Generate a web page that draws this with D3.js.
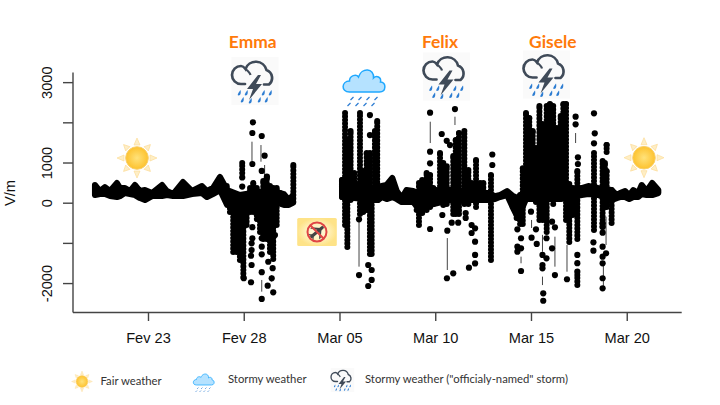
<!DOCTYPE html>
<html>
<head>
<meta charset="utf-8">
<script src="https://cdn.jsdelivr.net/npm/d3@7"></script>
<style>
    html, body { margin: 0; padding: 0; background: #fff; }
    svg { display: block; }
</style>
</head>
<body>
<div id="chart"></div>
<script>
var tickDays = [0, 5, 10, 15, 20, 25];
var tickLabels = ["Fev 23", "Fev 28", "Mar 05", "Mar 10", "Mar 15", "Mar 20"];
var yTicks = [3000, 2000, 1000, 0, -1000, -2000];
var yLabels = [3000, 1000, 0, -2000];

// continuous fair weather band (null = no measurements)
var bandDays = [-2.77, -2.51, -2.25, -1.98, -1.62, -1.46, -1.2, -0.94, -0.68, -0.42, -0.16, 0.21, 0.73, 0.99, 1.31, 1.83, 2.3, 2.82, 3.08, 3.39, 3.76, 4.13, 4.8, 6.37, 7.1, 7.36, 7.57,
    8,
    10.13, 12.01, 12.2, 12.46, 12.76, 12.99, 13.25, 13.5, 13.85, 14.1, 15.77, 17.73, 18.12, 18.38, 18.75, 19.06, 19.32, 19.74, 21.5, 22.65, 22.99, 23.5, 24.2, 24.48, 24.65, 24.91, 25.13, 25.34, 25.6, 25.78, 26.04, 26.33, 26.65];
var bandLow = [190, 215, 215, 165, 140, 165, 240, 215, 190, 115, 65, 165, 165, 190, 165, 165, 215, 240, 140, 215, 315, -55, 65, 65, -55, -55, -5,
    null,
    140, 65, 140, 90, 140, 90, 15, 15, 15, -130, 65, 65, 90, 140, 190, -130, -380, 90, 90, 190, 215, 190, 65, 115, 140, 140, 90, 140, 140, 215, 190, 190, 240];
var bandHigh = [440, 290, 390, 290, 490, 365, 365, 290, 440, 290, 315, 240, 440, 290, 215, 515, 290, 415, 290, 365, 640, 315, 190, 315, 215, 65, 190,
    null,
    565, 315, 415, 440, 615, 290, 115, 315, 290, 240, 315, 240, 165, 190, 290, 165, 115, 315, 315, 365, 415, 365, 315, 190, 240, 290, 190, 315, 240, 440, 290, 490, 315];

// vertical stacks of points during the storms
var colDays = [4.11, 4.28, 4.45, 4.63, 4.8, 4.98, 5.15, 5.33, 5.5, 5.68, 5.85, 6.02, 6.2, 6.37, 6.54, 6.72, 6.89, 7.07, 7.33, 7.59, 4.92,
    10.14, 10.29, 10.41, 10.58, 10.77, 11.07, 11.24, 11.42, 11.59, 11.68, 11.85, 11.97,
    14.03, 14.15, 14.32, 14.55, 14.73, 14.9, 15.08, 15.25, 15.42, 15.6, 15.77, 15.94, 16.07, 16.24, 16.52, 16.73, 16.9, 17.13, 17.34, 17.51, 17.91,
    19.25, 19.43, 19.57, 19.74, 19.91, 20.09, 20.26, 20.44, 20.61, 20.82, 20.99, 21.16, 21.34, 21.55, 21.69, 21.83, 22, 22.18, 22.42, 22.42,
    23.29, 23.74, 23.86, 23.95, 23.95, 24.21];
var colLow = [190, -230, -1225, -1225, -1425, -1850, -555, -230, -230, -405, -730, -905, -905, -1225, -1400, -555, 90, 165, -30, 15, 740,
    140, -555, -1100, 65, 190, -280, -230, -180, -1275, -1275, 65, 65,
    -180, -555, -255, -180, -105, -30, 65, 65, -55, -30, 65, -280, -280, -280, -30, -30, 65, -105, 65, 115, -1425,
    -380, -530, -530, 90, 90, 90, 15, -430, -430, -730, 90, -30, 90, 90, 165, -430, -980, -305, -905, -2050,
    -680, -605, -105, -105, 1260, -505];
var colHigh = [415, 190, 165, 115, 90, 115, 165, 365, 490, 365, 165, 540, 615, 415, 365, 365, 240, 165, 40, 940, 985,
    565, 2230, 1560, 1785, 740, 2230, 790, 1235, 1235, 315, 1785, 2030,
    240, 490, 565, 740, 690, 365, 315, 1235, 985, 910, 315, 1160, 1560, 1735, 1785, 815, 490, 1060, 490, 490, 690,
    115, 190, 860, 2230, 2105, 1785, 1360, 2405, 1960, 2405, 2455, 2405, 1860, 2155, 2455, 2455, 465, 365, 790, -1800,
    1235, 1035, 985, 790, 1435, 315];

// isolated points
var dotDays = [5.48, 5.45, 5.94, 6.09, 5.45, 5.94, 6.21, 4.92, 4.92, 4.92, 5.45, 5.45, 5.41, 5.41, 5.38, 5.41, 5.38, 5.94, 5.94, 5.94, 5.94, 6.28, 6.51, 6.25, 6.46, 6.54, 5.94, 5.0, 6.63,
    11.59, 11.59, 11.02, 11.02, 11.5, 11.68, 11.68, 11.5,
    14.73, 16.03, 15.34, 15.6, 15.77, 14.73, 14.73, 17.98, 17.98, 14.73, 15.63, 15.37, 15.86, 16.2, 16.59, 16.59, 16.9, 17.08, 16.9, 17.08, 17.08, 17.08, 16.76, 15.94, 15.61,
    19.48, 20.64, 20.64, 21.25, 21.88, 22.42, 22.42, 22.42, 22.33, 22.33, 22.45, 22.45, 19.48, 19.29, 19.29, 19.29, 19.48, 20.03, 20, 20.3, 20.26, 20.6, 20.6, 20.6, 20.81, 20.81, 21.1, 21.25, 21.1,
    23.29, 23.33, 23.29, 23.26, 23.26, 23.74, 23.74, 23.74, 23.74, 23.92, 23.74, 23.74, 23.74, 23.74];
var dotVals = [2000, 1734, 1660, 1170, 963, 790, 647, 630, 400, 190, -610, -885, -1010, -1177, -1320, -1550, -1980, -885, -1095, -1285, -1730, -1470, -1630, -2065, -1880, -2230, -2395, -1880, -805,
    2180, 1684, -413, -1800, -1550, -1675, -1923, -2073,
    2240, 2330, 1710, 1540, 1435, 1270, 980, 1200, 938, -655, -695, -306, -497, -497, -380, -256, -555, -637, -754, -970, -1300, -1510, -1617, -1757, -1880,
    -1700, -2255, -2440, -1800, -1905, -1300, -1505, -1717, 2140, 1950, 1130, 963, -885, -662, -1095, -1220, -1135, -870, -224, -1027, -662, -1300, -1550, -1632, -1385, -885, -472, -612, -1135,
    2225, 1727, 1478, -985, -1194, -513, -597, -746, -1095, -1259, -1343, -1508, -1880, -2130];

// thin connecting segments between far apart points
var thinDays = [5.43, 5.9, 6.09, 5.94, 6.46, 11.02, 14.74, 15.63, 16.03, 19.48, 20.03, 20.6, 20.6, 21.25, 21.88, 22.33, 23.78, 23.92];
var thinLow = [1020, 1020, 690, -2214, -1970, -1592, 1485, -1675, 1933, -1508, -630, -2050, -1220, -1592, -1717, 1485, -2120, -1052];
var thinHigh = [1518, 1435, 938, -1923, -1800, -473, 2015, -880, 2140, -1343, -430, -1840, -800, -846, -1052, 1734, -1500, -348];

var stormNames = ["Emma", "Felix", "Gisele"];
var stormDays = [5.47, 15.25, 21.14];
var legendLabels = ["Fair weather", "Stormy weather", "Stormy weather (\"officialy-named\" storm)"];

var width = 720, height = 405;
var svg = d3.select("#chart").append("svg")
    .attr("width", width)
    .attr("height", height);

var defs = svg.append("defs");
var sunGrad = defs.append("radialGradient").attr("id", "sunGrad");
sunGrad.append("stop").attr("offset", "0%").attr("stop-color", "#ffe27a");
sunGrad.append("stop").attr("offset", "100%").attr("stop-color", "#fdc22e");
var signGrad = defs.append("radialGradient").attr("id", "signGrad");
signGrad.append("stop").attr("offset", "0%").attr("stop-color", "#fffbe6");
signGrad.append("stop").attr("offset", "60%").attr("stop-color", "#fff0b8");
signGrad.append("stop").attr("offset", "100%").attr("stop-color", "#fee388");

var x = d3.scaleLinear().domain([-3.916, 27.87]).range([73, 681.7]);
var y = d3.scaleLinear().domain([-2720, 3240]).range([312, 72.5]);

// axes, R style: no box, only the two lines
var xAxis = d3.axisBottom(x)
    .tickValues(tickDays)
    .tickSize(9)
    .tickPadding(12)
    .tickFormat((d, i) => tickLabels[i]);
var yAxis = d3.axisLeft(y)
    .tickValues(yTicks)
    .tickSize(10)
    .tickFormat(d => yLabels.indexOf(d) > -1 ? d : "");

var gx = svg.append("g").attr("transform", "translate(0,312)").call(xAxis);
var gy = svg.append("g").attr("transform", "translate(73,0)").call(yAxis);
[gx, gy].forEach(g => {
    g.selectAll("path, line").attr("stroke", "#444").attr("stroke-width", 1.4);
    g.selectAll("text")
        .attr("fill", "#111")
        .style("font-family", "'Liberation Sans', Arial, sans-serif")
        .style("font-size", "14.6px");
});
gx.select("path").attr("d", "M73,0.5H681.7");
gy.select("path").attr("d", "M0,72.5V312.5");
gy.selectAll(".tick text")
    .attr("text-anchor", "middle")
    .attr("dy", 0)
    .attr("transform", "rotate(-90)")
    .attr("x", 0)
    .attr("y", -21);

svg.append("text")
    .attr("transform", "translate(15,193) rotate(-90)")
    .attr("text-anchor", "middle")
    .style("font-family", "'Liberation Sans', Arial, sans-serif")
    .style("font-size", "14.6px")
    .attr("fill", "#111")
    .text("V/m");

// the measurements
var band = d3.area()
    .defined(i => bandLow[i] !== null)
    .x(i => x(bandDays[i]))
    .y0(i => y(bandLow[i]))
    .y1(i => y(bandHigh[i]));
svg.append("path")
    .attr("d", band(d3.range(bandDays.length)))
    .attr("fill", "#000")
    .attr("stroke", "#000")
    .attr("stroke-width", 6)
    .attr("stroke-linejoin", "round");

svg.append("g").selectAll("line")
    .data(thinDays)
    .enter().append("line")
    .attr("x1", d => x(d))
    .attr("x2", d => x(d))
    .attr("y1", (d, i) => y(thinLow[i]))
    .attr("y2", (d, i) => y(thinHigh[i]))
    .attr("stroke", "#444")
    .attr("stroke-width", 1);

// beaded line so the stacks keep the bumpy edge of overlapping points
svg.append("g").selectAll("line")
    .data(colDays)
    .enter().append("line")
    .attr("x1", d => x(d))
    .attr("x2", d => x(d))
    .attr("y1", (d, i) => y(colLow[i]))
    .attr("y2", (d, i) => y(colHigh[i]))
    .attr("stroke", "#000")
    .attr("stroke-width", 6)
    .attr("stroke-linecap", "round")
    .attr("stroke-dasharray", "0 3.5");

svg.append("g").selectAll("circle")
    .data(colDays)
    .enter().append("circle")
    .attr("cx", d => x(d))
    .attr("cy", (d, i) => y(colHigh[i]))
    .attr("r", 3)
    .attr("fill", "#000");

svg.append("g").selectAll("circle")
    .data(dotDays)
    .enter().append("circle")
    .attr("cx", d => x(d))
    .attr("cy", (d, i) => y(dotVals[i]))
    .attr("r", 3.1)
    .attr("fill", "#000");

// pictograms, drawn around their own center
function drawSun(cx, cy, k) {
    var g = svg.append("g").attr("transform", "translate(" + cx + "," + cy + ") scale(" + k + ")");
    d3.range(8).forEach(i => {
        var far = i % 2 == 0 ? 20 : 19;
        g.append("path")
            .attr("d", "M-3,-13L0," + (-far) + "L3,-13Z")
            .attr("transform", "rotate(" + (i * 45) + ")")
            .attr("fill", "#feeec6")
            .attr("stroke", "#fcdc98")
            .attr("stroke-width", 0.7);
    });
    g.append("circle").attr("r", 11.3)
        .attr("fill", "url(#sunGrad)")
        .attr("stroke", "#f9cf6b")
        .attr("stroke-width", 1);
}

function drawStorm(cx, cy, k) {
    var g = svg.append("g").attr("transform", "translate(" + cx + "," + cy + ") scale(" + k + ")");
    g.append("rect").attr("x", -23.5).attr("y", -24).attr("width", 47).attr("height", 48)
        .attr("fill", "#fafafa");
    g.append("path")
        .attr("d", "M-10,3H-14A9,9 0 0 1 -14,-15C-13,-15 -11,-14 -9.5,-12A11,11 0 0 1 11.5,-11A8.5,8.5 0 0 1 14,3.5H9")
        .attr("fill", "none")
        .attr("stroke", "#3f4a58")
        .attr("stroke-width", 2.7)
        .attr("stroke-linecap", "round");
    g.append("path")
        .attr("d", "M-9.5,-12C-7,-10 -5,-8 -4.5,-6")
        .attr("fill", "none")
        .attr("stroke", "#3f4a58")
        .attr("stroke-width", 2.2);
    g.append("path")
        .attr("d", "M3,-6L-8,8L-2,8L-6,19L7,3L1,3L6,-6Z")
        .attr("fill", "#3f4a58");
    [[-16, 12], [-9, 12], [8, 12], [15, 12], [-13, 19], [-5, 20], [4, 19], [11, 19]].forEach(p => {
        g.append("path")
            .attr("d", "M" + (p[0] + 1.5) + "," + (p[1] - 3) + "C" + (p[0] + 0) + "," + (p[1] - 1) + " " + (p[0] - 2.5) + "," + (p[1] + 2.5) + " " + (p[0] - 0.5) + "," + (p[1] + 2.5) + "C" + (p[0] + 2) + "," + (p[1] + 2.5) + " " + (p[0] + 2) + "," + (p[1] - 1) + " " + (p[0] + 1.5) + "," + (p[1] - 3) + "Z")
            .attr("fill", "#2d7dd2");
    });
}

function drawCloud(cx, cy, k) {
    var g = svg.append("g").attr("transform", "translate(" + cx + "," + cy + ") scale(" + k + ")");
    g.append("path")
        .attr("d", "M-14,8C-23,8 -22,-3 -14,-3C-14,-9 -7,-10 -5,-7C-2,-17 11,-16 10,-6C13,-9 18,-7 17,-2C23,-2 23,8 16,8Z")
        .attr("fill", "#b5e2ff")
        .attr("stroke", "#1fa8ff")
        .attr("stroke-width", 1.5);
    [[-13, 13], [-5, 13], [3, 13], [11, 13], [-16, 19], [-8, 19], [0, 19], [8, 19]].forEach(p => {
        g.append("line")
            .attr("x1", p[0]).attr("y1", p[1] + 3)
            .attr("x2", p[0] + 3).attr("y2", p[1])
            .attr("stroke", "#2d7dd2")
            .attr("stroke-width", 1.3);
    });
}

function drawNoPlane(cx, cy) {
    var g = svg.append("g").attr("transform", "translate(" + cx + "," + cy + ")");
    g.append("rect").attr("x", -19.8).attr("y", -14).attr("width", 39.6).attr("height", 28).attr("rx", 1.5)
        .attr("fill", "url(#signGrad)");
    var p = g.append("g").attr("transform", "rotate(-40)").attr("fill", "#444");
    p.append("rect").attr("x", -8.5).attr("y", -1.5).attr("width", 17).attr("height", 3).attr("rx", 1.5);
    p.append("path").attr("d", "M2,-1L-3,-7L-1,-7L5,-1ZM2,1L-3,7L-1,7L5,1ZM-7,-1L-9,-4L-8,-4L-5,-1ZM-7,1L-9,4L-8,4L-5,1Z");
    g.append("circle").attr("r", 9.5).attr("fill", "none").attr("stroke", "#e04545").attr("stroke-width", 2);
    g.append("line").attr("x1", -6.8).attr("y1", -6.8).attr("x2", 6.8).attr("y2", 6.8)
        .attr("stroke", "#e04545").attr("stroke-width", 2);
}

drawSun(137, 158, 1);
drawSun(644, 157.7, 1);
drawStorm(255, 81, 1);
drawStorm(446.5, 76.5, 1);
drawStorm(546.5, 74.5, 1);
drawCloud(363.5, 84, 1);
drawNoPlane(317, 232);

svg.append("g").selectAll("text")
    .data(stormNames)
    .enter().append("text")
    .attr("x", (d, i) => x(stormDays[i]))
    .attr("y", 48)
    .attr("text-anchor", "middle")
    .attr("fill", "#ff7a0a")
    .style("font-family", "Lato, sans-serif")
    .style("font-weight", "bold")
    .style("font-size", "17.4px")
    .text(d => d);

// legend
drawSun(82, 381.5, 0.52);
drawCloud(203.5, 381, 0.5);
drawStorm(342.5, 380, 0.5);
var legendX = [100.5, 228, 365];
var legendY = [385, 383, 383];
svg.append("g").selectAll("text")
    .data(legendLabels)
    .enter().append("text")
    .attr("x", (d, i) => legendX[i])
    .attr("y", (d, i) => legendY[i])
    .attr("fill", "#333")
    .style("font-family", "Lato, sans-serif")
    .style("font-size", "11.3px")
    .text(d => d);
</script>
</body>
</html>
